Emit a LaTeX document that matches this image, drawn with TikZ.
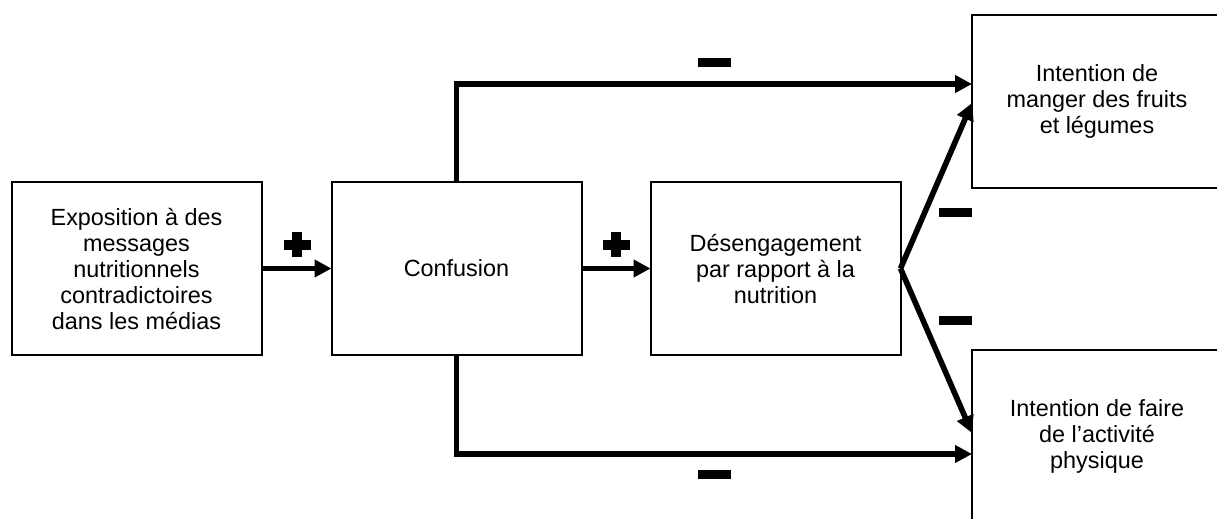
\documentclass[tikz,border=0pt]{standalone}
\usepackage{fontspec}
\setmainfont{Liberation Sans}
\usetikzlibrary{arrows.meta,positioning}

\tikzset{
  boite/.style={draw, line width=1pt, minimum width=125pt, minimum height=86.5pt,
    align=center, inner sep=0pt, outer sep=0pt,
    font=\fontsize{11.7}{13}\selectfont},
  fleche/.style={line width=2.8pt, -{Triangle[length=8.5pt,width=8.5pt]}},
  moins/.style={fill, minimum width=16.5pt, minimum height=4.5pt, inner sep=0pt},
  plush/.style={fill, minimum width=13.5pt, minimum height=5pt, inner sep=0pt},
  plusv/.style={fill, minimum width=5pt, minimum height=12.5pt, inner sep=0pt}
}

\begin{document}
\begin{tikzpicture}[x=0.5pt,y=-0.5pt]
    \useasboundingbox (0,0) rectangle (1217,519);

    % les boites
    \node[boite] (expo) at (136.5,268.5) {Exposition à des\\ messages\\ nutritionnels\\ contradictoires\\ dans les médias};
    \node[boite, right=35pt of expo] (conf) {Confusion};
    \node[boite, right=34.5pt of conf] (deseng) {Désengagement\\ par rapport à la\\ nutrition};
    \node[boite] (fruits) at (1097,101.5) {Intention de\\ manger des fruits\\ et légumes};
    \node[boite] (activ) at (1097,436.5) {Intention de faire\\ de l’activité\\ physique};

    % les fleches
    \draw[fleche] (expo) -- (conf);
    \draw[fleche] (conf) -- (deseng);
    \draw[fleche] (deseng.east) -- ([yshift=-0.75pt]fruits.west);
    \draw[fleche] (deseng.east) -- ([yshift=1.75pt]activ.west);
    \draw[fleche] (conf.north) |- ([yshift=8.75pt]fruits.west);
    \draw[fleche] (conf.south) |- ([yshift=-8.75pt]activ.west);

    % les signes
    \node[plush] (p1h) at (297,245) {};
    \node[plusv] (p1v) at (297,245) {};
    \node[plush] (p2h) at (616,245) {};
    \node[plusv] (p2v) at (616,245) {};
    \node[moins] (m1) at (714,63) {};
    \node[moins] (m2) at (955,213) {};
    \node[moins] (m3) at (955,320) {};
    \node[moins] (m4) at (714,474) {};
\end{tikzpicture}
\end{document}
